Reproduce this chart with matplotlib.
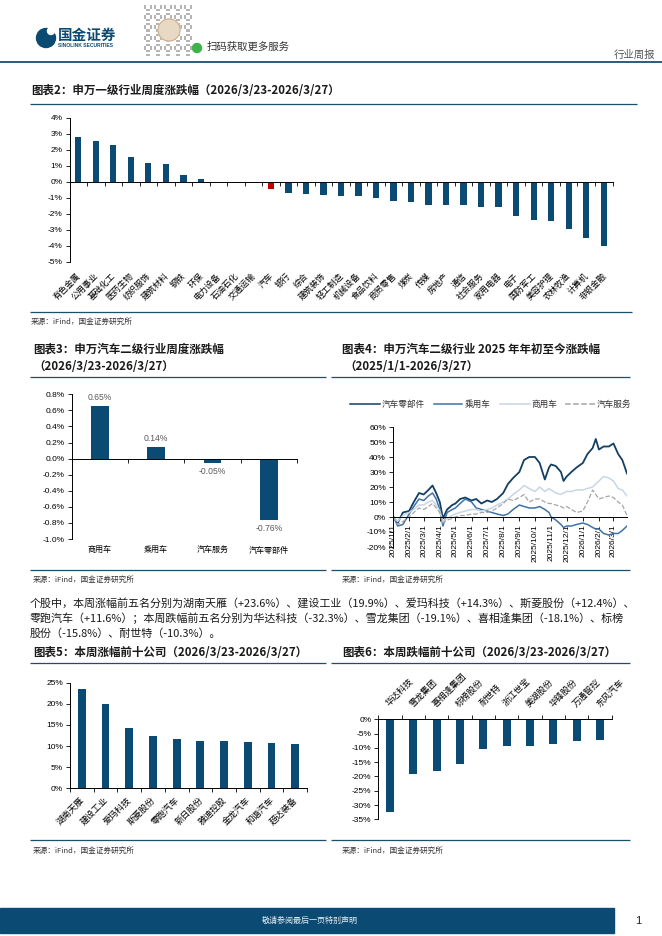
import numpy as np
import pandas as pd
import matplotlib
matplotlib.use('Agg')
import matplotlib.pyplot as plt
import matplotlib.dates as mdates
from matplotlib.patches import Rectangle, Circle
from matplotlib.ticker import FuncFormatter, MultipleLocator

plt.rcParams['font.family'] = ['Liberation Sans', 'Noto Sans CJK SC']
plt.rcParams['axes.unicode_minus'] = False

# ---------------- data ----------------
ind_names = ['有色金属', '公用事业', '基础化工', '医药生物', '纺织服饰', '建筑材料', '钢铁', '环保',
             '电力设备', '石油石化', '交通运输', '汽车', '银行', '综合', '建筑装饰', '轻工制造',
             '机械设备', '食品饮料', '商贸零售', '煤炭', '传媒', '房地产', '通信', '社会服务',
             '家用电器', '电子', '国防军工', '美容护理', '农林牧渔', '计算机', '非银金融']
ind_chg = [2.80, 2.53, 2.32, 1.57, 1.19, 1.13, 0.41, 0.20, 0.01, -0.07, -0.07, -0.46, -0.72,
           -0.78, -0.85, -0.86, -0.89, -1.03, -1.17, -1.27, -1.44, -1.46, -1.46, -1.54, -1.60,
           -2.10, -2.37, -2.43, -2.96, -3.50, -4.00]

sub_names = ['商用车', '乘用车', '汽车服务', '汽车零部件']
sub_chg = [0.65, 0.14, -0.05, -0.76]

ts_dates = ['2025-01-02', '2025-01-10', '2025-01-20', '2025-02-01', '2025-02-10', '2025-02-20',
            '2025-03-01', '2025-03-10', '2025-03-18', '2025-03-25', '2025-04-01', '2025-04-07',
            '2025-04-15', '2025-04-25', '2025-05-01', '2025-05-10', '2025-05-20', '2025-06-01',
            '2025-06-10', '2025-06-20', '2025-07-01', '2025-07-10', '2025-07-20', '2025-08-01',
            '2025-08-10', '2025-08-20', '2025-09-01', '2025-09-10', '2025-09-20', '2025-10-01',
            '2025-10-10', '2025-10-20', '2025-10-28', '2025-11-01', '2025-11-10', '2025-11-20',
            '2025-11-25', '2025-12-01', '2025-12-10', '2025-12-20', '2026-01-01', '2026-01-10',
            '2026-01-20', '2026-01-26', '2026-02-01', '2026-02-10', '2026-02-20', '2026-03-01',
            '2026-03-10', '2026-03-18', '2026-03-27']
parts = [0, -4, 3, 4, 10, 16, 15, 18, 21, 16, 10, -1, 5, 8, 9, 12, 13, 11, 12, 9, 11, 10, 12,
         16, 22, 26, 30, 38, 40, 40, 36, 25, 33, 35, 34, 30, 24, 27, 30, 33, 36, 42, 46, 52, 45,
         47, 47, 49, 42, 38, 29]
passenger = [0, -6, -5, 2, 7, 12, 11, 14, 16, 12, 5, -6, 3, 5, 6, 9, 12, 10, 6, 5, 4, 3, 2, 1,
             2, 5, 8, 7, 6, 6, 7, 5, 3, 0, -2, -5, -7, -6, -6, -5, -4, -5, -7, -8, -8, -11, -12,
             -11, -11, -9, -6]
commercial = [0, -3, 1, 3, 5, 8, 8, 10, 11, 8, 4, -3, -1, 1, 2, 3, 4, 5, 5, 4, 5, 6, 8, 10, 12,
              15, 18, 21, 19, 17, 20, 17, 19, 18, 16, 15, 16, 17, 17, 18, 18, 19, 20, 22, 24, 27,
              26, 24, 19, 18, 14]
service = [0, -5, -3, 0, 3, 6, 5, 7, 9, 6, 3, -4, -2, -1, 0, 1, 1, 2, 2, 3, 3, 4, 6, 9, 12, 11,
           13, 15, 10, 12, 12, 10, 9, 9, 8, 7, 6, 7, 5, 3, 4, 10, 18, 15, 12, 13, 14, 13, 10, 8, 1]
ts_names = ['汽车零部件', '乘用车', '商用车', '汽车服务']

up_names = ['湖南天雁', '建设工业', '爱玛科技', '斯菱股份', '零跑汽车', '新日股份', '雅迪控股',
            '金龙汽车', '和谐汽车', '超达装备']
up_chg = [23.6, 19.9, 14.3, 12.4, 11.6, 11.3, 11.2, 11.0, 10.8, 10.5]

down_names = ['华达科技', '雪龙集团', '喜相逢集团', '标榜股份', '耐世特', '浙江世宝', '美湖股份',
              '华锋股份', '万通智控', '东风汽车']
down_chg = [-32.3, -19.1, -18.1, -15.8, -10.3, -9.5, -9.2, -8.5, -7.5, -7.1]

# ---------------- style ----------------
W, H = 662, 936
NAVY = '#0b4a72'
LINEC = '#1f4e6b'
TXT = '#262626'
CJK = ['Noto Sans CJK SC', 'DejaVu Sans']

fig = plt.figure(figsize=(W / 100, H / 100), dpi=100)
fig.patch.set_facecolor('white')

page = fig.add_axes([0, 0, 1, 1])
page.set_xlim(0, W)
page.set_ylim(H, 0)
page.axis('off')


def add_ax(x0, y0, x1, y1):
    return fig.add_axes([x0 / W, 1 - y1 / H, (x1 - x0) / W, (y1 - y0) / H])


def hline(y, x0, x1, lw=0.9, c=LINEC):
    page.plot([x0, x1], [y, y], color=c, lw=lw, solid_capstyle='butt')


def ptext(x, y, s, size=6, bold=False, color=TXT, ha='left', va='center', **kw):
    page.text(x, y, s, fontsize=size, fontweight='bold' if bold else 'normal', color=color,
              ha=ha, va=va, family=CJK, **kw)


def style_axes(ax):
    for s in ['top', 'right']:
        ax.spines[s].set_visible(False)
    for s in ['left', 'bottom']:
        ax.spines[s].set_linewidth(0.7)
        ax.spines[s].set_color('#000000')
    ax.tick_params(axis='both', length=3, width=0.6, direction='out', labelsize=6, pad=2,
                   colors='#000000')
    ax.patch.set_alpha(0)


# ---------------- header ----------------
page.add_patch(Circle((46, 38), 9.5, color=NAVY))
page.add_patch(Circle((51, 31), 3.5, color='white'))
ptext(58, 35, '国金证券', size=10.5, bold=True, color=NAVY)
page.text(58, 45.5, 'SINOLINK SECURITIES', fontsize=3.6, fontweight='bold', color=NAVY,
          ha='left', va='center')
# QR code placeholder
qi, qj = np.meshgrid(np.arange(25), np.arange(25))
qr = ((qi * 7 + qj * 11 + qi * qj) % 5 < 2).astype(float)
page.imshow(qr, cmap='Greys', vmin=0, vmax=2.5, extent=(144, 194, 56, 5), interpolation='nearest',
            zorder=1)
page.add_patch(Circle((169, 30), 11, color='#e8d9c4', zorder=2))
page.add_patch(Circle((169, 30), 11, fill=False, ec='#c9a77f', lw=0.6, zorder=2))
page.add_patch(Circle((197, 48), 4.5, color='#3cb34a', zorder=3))
page.set_xlim(0, W)
page.set_ylim(H, 0)
page.set_aspect('auto')
ptext(207, 47, '扫码获取更多服务', size=7.5, color='#333333')
ptext(655, 55, '行业周报', size=7.5, color='#555555', ha='right')
hline(62, 0, 662, lw=1.3)

# ---------------- chart 2 ----------------
ptext(31, 91, '图表2：申万一级行业周度涨跌幅（2026/3/23-2026/3/27）', size=8.3, bold=True,
      color='#1a1a1a')
hline(104, 30, 637)
ax2 = add_ax(69.5, 117.7, 612.5, 262)
style_axes(ax2)
x2 = np.arange(len(ind_names))
cols2 = ['#c00000' if n == '汽车' else NAVY for n in ind_names]
ax2.bar(x2, ind_chg, width=0.36, color=cols2)
ax2.set_xlim(-0.5, len(ind_names) - 0.5)
ax2.set_ylim(-5, 4)
ax2.yaxis.set_major_locator(MultipleLocator(1))
ax2.yaxis.set_major_formatter(FuncFormatter(lambda v, p: f'{v:.0f}%'))
ax2.spines['bottom'].set_position(('data', 0))
ax2.set_xticks(np.arange(-0.5, len(ind_names), 1))
ax2.set_xticklabels([])
for i, n in enumerate(ind_names):
    ax2.annotate(n, xy=(i, 0), xycoords=('data', 'axes fraction'), xytext=(-1.5, -6.5),
                 textcoords='offset points', rotation=45, ha='right', va='top',
                 rotation_mode='anchor', fontsize=6.1, family=CJK, color='#000000')
hline(312, 30, 632)
ptext(31, 322, '来源：iFind，国金证券研究所', size=5.5, color='#333333')

# ---------------- chart 3 ----------------
ptext(33, 349, '图表3：申万汽车二级行业周度涨跌幅', size=8.3, bold=True, color='#1a1a1a')
ptext(33, 366, '（2026/3/23-2026/3/27）', size=8.3, bold=True, color='#1a1a1a')
hline(377, 30, 326)
ax3 = add_ax(71.7, 394.3, 297, 539)
style_axes(ax3)
x3 = np.arange(len(sub_names))
ax3.bar(x3, sub_chg, width=0.31, color=NAVY)
ax3.set_xlim(-0.5, len(sub_names) - 0.5)
ax3.set_ylim(-1.0, 0.8)
ax3.yaxis.set_major_locator(MultipleLocator(0.2))
ax3.yaxis.set_major_formatter(FuncFormatter(lambda v, p: f'{v:.1f}%'))
ax3.spines['bottom'].set_position(('data', 0))
ax3.set_xticks(np.arange(-0.5, len(sub_names), 1))
ax3.set_xticklabels([])
for i, (n, v) in enumerate(zip(sub_names, sub_chg)):
    ax3.annotate(f'{v:.2f}%', xy=(i, v), xytext=(0, 3 if v >= 0 else -3),
                 textcoords='offset points', ha='center', va='bottom' if v >= 0 else 'top',
                 fontsize=6.2, color='#595959')
    ax3.annotate(n, xy=(i, 0), xycoords=('data', 'axes fraction'), xytext=(0, -5),
                 textcoords='offset points', ha='center', va='top', fontsize=5.8, family=CJK,
                 color='#000000')
hline(570, 30, 326)
ptext(33, 580, '来源：iFind，国金证券研究所', size=5.5, color='#333333')

# ---------------- chart 4 ----------------
ptext(342, 349, '图表4：申万汽车二级行业 2025 年年初至今涨跌幅', size=8.3, bold=True,
      color='#1a1a1a')
ptext(344, 366, '（2025/1/1-2026/3/27）', size=8.3, bold=True, color='#1a1a1a')
hline(377, 331, 630)
ax4 = add_ax(393, 427, 627, 547)
style_axes(ax4)
dts = pd.to_datetime(ts_dates)
series = [parts, passenger, commercial, service]
ts_colors = ['#123f63', '#3f72a8', '#c8d6e5', '#a6a6a6']
ts_styles = ['-', '-', '-', '--']
ts_lw = [1.3, 1.1, 1.1, 0.9]
for vals, c, ls, lw in zip(series, ts_colors, ts_styles, ts_lw):
    ax4.plot(dts, vals, color=c, ls=ls, lw=lw)
ax4.set_xlim(pd.Timestamp('2025-01-01'), pd.Timestamp('2026-03-27'))
ax4.set_ylim(-20, 60)
ax4.yaxis.set_major_locator(MultipleLocator(10))
ax4.yaxis.set_major_formatter(FuncFormatter(lambda v, p: f'{v:.0f}%'))
ax4.spines['bottom'].set_position(('data', 0))
ax4.xaxis.set_major_locator(mdates.MonthLocator(bymonthday=1))


def dfmt(v, p):
    d = mdates.num2date(v)
    return f'{d.year}/{d.month}/{d.day}'


ax4.xaxis.set_major_formatter(FuncFormatter(dfmt))
plt.setp(ax4.get_xticklabels(), rotation=90, ha='center', va='top', fontsize=6)
# legend
leg_ax = add_ax(340, 396, 630, 412)
leg_ax.set_xlim(340, 630)
leg_ax.set_ylim(412, 396)
leg_ax.axis('off')
leg_pos = [(350, 380, 382), (434, 462, 465), (500, 530, 532), (565, 595, 597)]
for (l0, l1, tx), n, c, ls in zip(leg_pos, ts_names, ts_colors, ts_styles):
    leg_ax.plot([l0, l1], [404, 404], color=c, ls=ls, lw=1.1)
    leg_ax.text(tx, 404, n, fontsize=6.2, family=CJK, va='center', ha='left', color='#333333',
                clip_on=True)
hline(570, 331, 630)
ptext(342, 580, '来源：iFind，国金证券研究所', size=5.5, color='#333333')

# ---------------- paragraph ----------------
para = ['个股中，本周涨幅前五名分别为湖南天雁（+23.6%）、建设工业（19.9%）、爱玛科技（+14.3%）、斯菱股份（+12.4%）、',
        '零跑汽车（+11.6%）；本周跌幅前五名分别为华达科技（-32.3%）、雪龙集团（-19.1%）、喜相逢集团（-18.1%）、标榜',
        '股份（-15.8%）、耐世特（-10.3%）。']
for k, line in enumerate(para):
    ptext(30, 603 + 15.5 * k, line, size=7.95, color='#1a1a1a')

# ---------------- chart 5 ----------------
ptext(33, 653, '图表5：本周涨幅前十公司（2026/3/23-2026/3/27）', size=8.3, bold=True,
      color='#1a1a1a')
hline(663, 30, 326)
ax5 = add_ax(70, 682.7, 307, 788.3)
style_axes(ax5)
x5 = np.arange(len(up_names))
ax5.bar(x5, up_chg, width=0.33, color=NAVY)
ax5.set_xlim(-0.5, len(up_names) - 0.5)
ax5.set_ylim(0, 25)
ax5.yaxis.set_major_locator(MultipleLocator(5))
ax5.yaxis.set_major_formatter(FuncFormatter(lambda v, p: f'{v:.0f}%'))
ax5.set_xticks(np.arange(-0.5, len(up_names), 1))
ax5.set_xticklabels([])
for i, n in enumerate(up_names):
    ax5.annotate(n, xy=(i, 0), xycoords=('data', 'axes fraction'), xytext=(-1.5, -5),
                 textcoords='offset points', rotation=45, ha='right', va='top',
                 rotation_mode='anchor', fontsize=6.3, family=CJK, color='#000000')
hline(840, 30, 326)
ptext(33, 851, '来源：iFind，国金证券研究所', size=5.5, color='#333333')

# ---------------- chart 6 ----------------
ptext(342, 653, '图表6：本周跌幅前十公司（2026/3/23-2026/3/27）', size=8.3, bold=True,
      color='#1a1a1a')
hline(663, 331, 630)
ax6 = add_ax(378.3, 719.3, 611.7, 819.3)
style_axes(ax6)
ax6.spines['bottom'].set_visible(False)
ax6.spines['top'].set_visible(True)
ax6.spines['top'].set_linewidth(0.7)
x6 = np.arange(len(down_names))
ax6.bar(x6, down_chg, width=0.33, color=NAVY)
ax6.set_xlim(-0.5, len(down_names) - 0.5)
ax6.set_ylim(-35, 0)
ax6.yaxis.set_major_locator(MultipleLocator(5))
ax6.yaxis.set_major_formatter(FuncFormatter(lambda v, p: f'{v:.0f}%'))
ax6.xaxis.set_ticks_position('top')
ax6.set_xticks(np.arange(-0.5, len(down_names), 1))
ax6.set_xticklabels([])
for i, n in enumerate(down_names):
    ax6.annotate(n, xy=(i, 1), xycoords=('data', 'axes fraction'), xytext=(0.5, 8),
                 textcoords='offset points', rotation=45, ha='left', va='bottom',
                 rotation_mode='anchor', fontsize=6.3, family=CJK, color='#000000')
hline(840, 331, 630)
ptext(342, 851, '来源：iFind，国金证券研究所', size=5.5, color='#333333')

# ---------------- footer ----------------
page.add_patch(Rectangle((0, 908), 614, 25, color=NAVY))
ptext(310, 920.5, '敬请参阅最后一页特别声明', size=5.8, color='#e8eef3', ha='center')
page.text(638, 921, '1', fontsize=8, color='#222222', ha='center', va='center')

fig.savefig('out.png', dpi=100)
